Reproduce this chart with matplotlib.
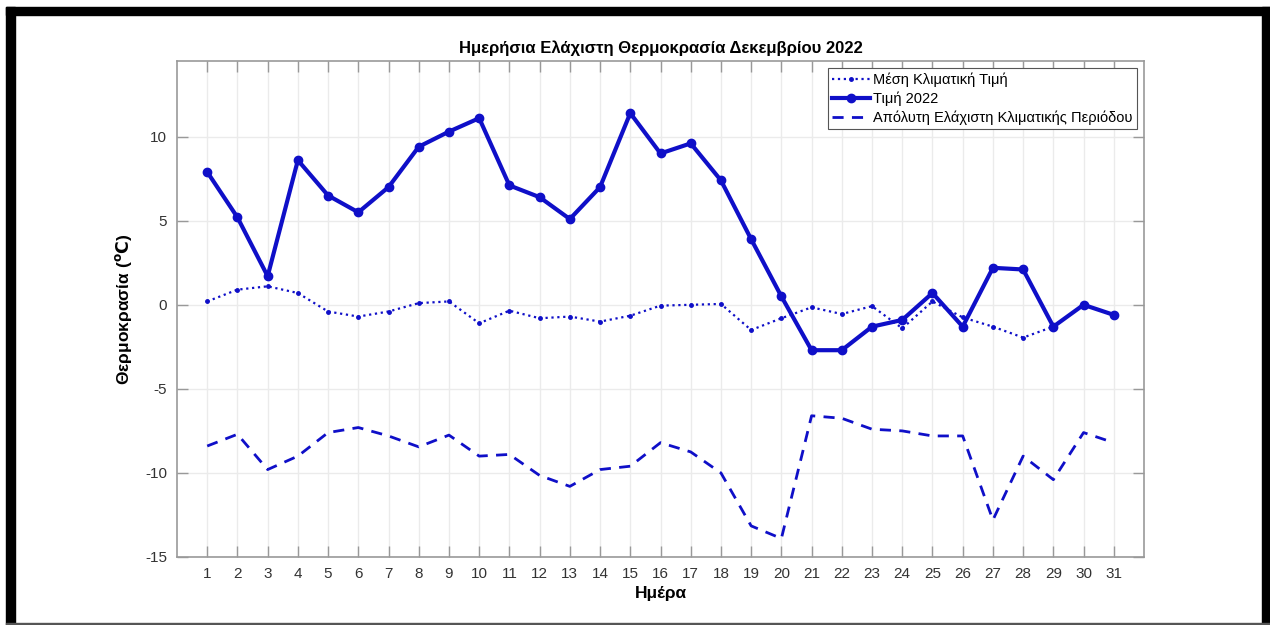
import numpy as np
import matplotlib
matplotlib.use("Agg")
import matplotlib.pyplot as plt
from matplotlib.patches import Rectangle

plt.rcParams['font.family'] = ['Liberation Sans', 'DejaVu Sans']
plt.rcParams['axes.unicode_minus'] = False

days = list(range(1, 32))
mean_clim = [0.2, 0.9, 1.1, 0.7, -0.4, -0.7, -0.4, 0.1, 0.2, -1.1,
             -0.35, -0.8, -0.7, -1.0, -0.65, -0.05, 0.0, 0.05, -1.5, -0.8,
             -0.15, -0.55, -0.08, -1.4, 0.2, -0.75, -1.3, -1.95, -1.3, 0.0, -0.6]
val_2022 = [7.9, 5.2, 1.7, 8.6, 6.5, 5.5, 7.0, 9.4, 10.3, 11.1,
            7.1, 6.4, 5.1, 7.0, 11.4, 9.0, 9.6, 7.4, 3.9, 0.5,
            -2.7, -2.7, -1.3, -0.9, 0.7, -1.3, 2.2, 2.1, -1.3, 0.0, -0.6]
abs_min = [-8.4, -7.7, -9.8, -9.0, -7.6, -7.3, -7.8, -8.45, -7.75, -9.0,
           -8.9, -10.15, -10.8, -9.8, -9.6, -8.2, -8.75, -10.0, -13.15, -13.9,
           -6.6, -6.75, -7.4, -7.5, -7.8, -7.8, -12.8, -9.0, -10.4, -7.6, -8.2]

blue = '#0f0fc8'

fig = plt.figure(figsize=(12.7, 6.25), dpi=100)
ax = fig.add_axes([177/1270, 1 - 557/625, (1144-177)/1270, (557-61)/625])

ax.plot(days, mean_clim, ':', color=blue, lw=1.6, marker='.', ms=5,
        label='Μέση Κλιματική Τιμή')
ax.plot(days, val_2022, '-', color=blue, lw=3, marker='o', ms=6,
        label='Τιμή 2022')
ax.plot(days, abs_min, '--', color=blue, lw=2, dashes=(4, 3),
        label='Απόλυτη Ελάχιστη Κλιματικής Περιόδου')

ax.set_xlim(0, 32)
ax.set_ylim(-15, 14.5)
ax.set_xticks(days)
ax.set_yticks([-15, -10, -5, 0, 5, 10])
ax.grid(True, color='#ebebeb', lw=1)
ax.set_axisbelow(True)
ax.tick_params(direction='in', length=8, width=1, color='#999999',
               labelcolor='#333333', labelsize=11, top=True, right=True, pad=7)
for s in ax.spines.values():
    s.set_color('#999999')
    s.set_linewidth(1.2)

ax.set_title('Ημερήσια Ελάχιστη Θερμοκρασία Δεκεμβρίου 2022',
             fontsize=12, fontweight='bold', pad=6)
ax.set_xlabel('Ημέρα', fontsize=12.5, fontweight='bold', labelpad=4)
ax.set_ylabel('Θερμοκρασία ($\\mathbf{^oC}$)', fontsize=12.5, fontweight='bold', labelpad=8)

leg = ax.legend(loc='upper right', fontsize=10.5, handlelength=2.6, handletextpad=0.2,
                borderpad=0.3, labelspacing=0.3, fancybox=False, framealpha=1,
                borderaxespad=0.5)
leg.get_frame().set_edgecolor('#555555')
leg.get_frame().set_linewidth(0.8)

# black picture frame
fig.patches.append(Rectangle((6/1270, 0), 9/1270, 1 - 7/625, transform=fig.transFigure,
                             color='black', zorder=10))
fig.patches.append(Rectangle((6/1270, 1 - 15/625), 1264/1270, 8/625, transform=fig.transFigure,
                             color='black', zorder=10))
fig.patches.append(Rectangle((1262/1270, 0), 8/1270, 1 - 7/625, transform=fig.transFigure,
                             color='black', zorder=10))
fig.patches.append(Rectangle((6/1270, 1/625), 1264/1270, 1.5/625, transform=fig.transFigure,
                             color='#555555', zorder=10))

fig.savefig('out.png', dpi=100)
